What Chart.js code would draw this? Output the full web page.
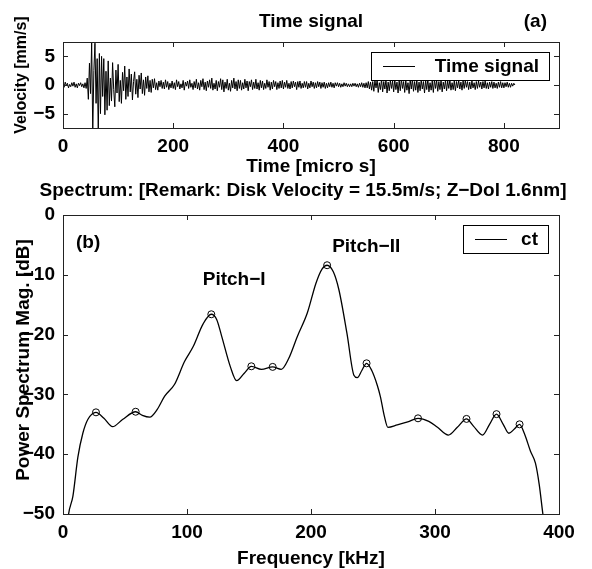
<!DOCTYPE html>
<html>
<head>
<meta charset="utf-8">
<script src="https://cdn.jsdelivr.net/npm/chart.js@4.4.1/dist/chart.umd.min.js"></script>
<style>
  html, body { margin: 0; padding: 0; background: #fff; }
  #wrap { position: relative; width: 592px; height: 569px; }
  canvas { position: absolute; left: 0; top: 0; }
</style>
</head>
<body>
<div id="wrap">
  <canvas id="timeChart" width="592" height="569"></canvas>
  <canvas id="specChart" width="592" height="569"></canvas>
</div>
<script>
// (a) time signal, one sample every 2 micro s starting at 0
const timeStep = 2;
const velocity = [
  0.2, -0.4, 0.5, -0.1, 0.3, -0.5, 0.1, -0.3, 0.4, -0.2, 0.5, -0.4, 0.2, -0.5, 0.3, -0.1, 0.4, -0.3, 0.2, -0.5,
  0.4, -0.6, 1.2, -2.5, 3.8, -1.5, 7.5, -8.5, 2.5, 7.3, -3.2, 4.6, -8.5, 5.5, -5.0, 5.0, -2.0, 4.6, -5.2, 2.4,
  -4.4, 4.2, -3.6, 1.2, -2.8, 3.9, -0.8, -3.8, 2.6, -1.4, 3.6, -2.9, 0.8, -3.2, 2.2, -1.0, 3.3, -2.5, 1.4, -2.0,
  2.8, -1.2, 1.9, -2.6, 0.6, 2.3, -1.6, 1.0, -2.2, 1.7, -0.7, 2.1, -1.5, 0.9, -1.8, 1.4, -0.6, 1.6, -1.2, 0.8,
  -1.3, 1.0, -0.5, 1.1, -0.8, 0.4, -0.9, 0.7, -0.3, 0.8, -0.6, 0.5, -0.7, 0.9, -0.4, 0.6, -0.8, 0.3, -0.5, 0.7,
  -0.6, 0.4, -0.8, 0.9, -0.3, 0.6, -0.7, 0.2, -0.5, 0.8, -0.9, 0.5, -0.2, 0.7, -0.6, 0.9, -0.4, 0.3, -0.8, 0.6,
  -0.5, 1.0, -0.7, 0.4, -0.9, 0.8, -0.3, 1.1, -0.8, 0.5, -1.0, 0.7, -0.4, 0.9, -0.6, 1.2, -0.9, 0.3, -0.7, 0.8,
  -1.0, 0.6, -0.4, 1.1, -0.8, 0.9, -1.2, 0.5, -0.6, 1.0, -0.9, 0.3, -1.1, 0.8, -0.5, 1.2, -0.7, 0.6, -1.0, 0.9,
  -0.6, 0.8, -0.9, 0.4, -0.7, 1.0, -0.5, 0.7, -1.0, 0.6, -0.3, 0.9, -0.8, 0.5, -0.6, 1.0, -0.7, 0.4, -0.9, 0.8,
  -0.5, 0.7, -0.8, 0.3, -0.6, 0.9, -0.4, 0.6, -0.9, 0.5, -0.7, 0.8, -0.3, 0.6, -0.8, 0.4, -0.6, 0.7, -0.5, 0.8,
  -0.7, 0.5, -0.4, 0.8, -0.6, 0.3, -0.7, 0.6, -0.5, 0.7, -0.3, 0.5, -0.8, 0.6, -0.4, 0.7, -0.6, 0.3, -0.5, 0.6,
  -0.4, 0.6, -0.7, 0.3, -0.5, 0.7, -0.3, 0.5, -0.6, 0.4, -0.5, 0.6, -0.3, 0.5, -0.6, 0.4, -0.4, 0.5, -0.6, 0.3,
  -0.5, 0.4, -0.3, 0.5, -0.4, 0.3, -0.5, 0.4, -0.2, 0.4, -0.3, 0.3, -0.4, 0.2, -0.3, 0.4, -0.2, 0.3, -0.3, 0.2,
  -0.3, 0.2, -0.3, 0.3, -0.2, 0.3, -0.3, 0.2, -0.4, 0.3, -0.3, 0.4, -0.4, 0.3, -0.5, 0.4, -0.5, 0.6, -0.7, 0.5,
  -0.9, 0.6, -1.1, 0.8, -0.5, 0.9, -1.3, 0.4, -0.8, 1.0, -1.2, 0.6, -0.7, 0.9, -1.4, 0.5, -1.0, 0.8, -0.6, 0.7,
  -1.2, 0.9, -0.8, 0.5, -1.4, 0.7, -1.0, 1.0, -0.6, 0.6, -1.3, 0.8, -0.9, 0.4, -1.5, 0.9, -0.7, 1.0, -1.1, 0.6,
  -0.9, 0.8, -1.3, 0.5, -1.0, 0.9, -0.7, 0.6, -1.4, 0.8, -0.8, 1.0, -1.2, 0.4, -0.9, 0.7, -1.3, 0.9, -0.6, 0.8,
  -1.1, 0.6, -0.8, 0.9, -1.2, 0.5, -0.7, 0.8, -1.0, 0.7, -0.6, 0.9, -0.9, 0.4, -0.8, 0.7, -1.0, 0.6, -0.5, 0.8,
  -0.7, 0.5, -0.9, 0.7, -0.6, 0.8, -0.4, 0.6, -0.8, 0.5, -0.7, 0.7, -0.5, 0.4, -0.8, 0.6, -0.6, 0.7, -0.4, 0.5,
  -0.7, 0.6, -0.5, 0.7, -0.6, 0.4, -0.7, 0.5, -0.4, 0.6, -0.6, 0.5, -0.5, 0.3, -0.6, 0.5, -0.4, 0.6, -0.5, 0.4,
  -0.5, 0.4, -0.3, 0.5, -0.4, 0.3, -0.4, 0.3, -0.2, 0.3, 0.0
];
const timeTicks = [0, 200, 400, 600, 800];
const velocityTicks = [-5, 0, 5];

// (b) spectrum
const freqKHz = [
  3, 4.5, 8, 12, 16, 20, 26.6, 33, 40, 48, 58.6, 64, 70, 76, 82, 90, 98, 105, 113,
  119.6, 124, 128, 135, 140, 146, 151.9, 160, 169.1, 176, 182, 189, 197, 204, 209,
  213, 218, 222.5, 229, 234.6, 237.3, 241, 244.8, 249, 253.5, 256, 259, 262, 269.6,
  278, 286.3, 295, 302, 310.8, 318, 325.4, 331, 338.3, 344, 349.6, 355, 359.6, 364,
  368.2, 372, 377, 381, 384, 387, 389
];
const powerDB = [
  -53, -50, -47, -40.5, -36.5, -34.2, -33.0, -34.0, -35.4, -34.2, -32.9, -33.5, -33.8,
  -32.5, -30.3, -28.3, -24.5, -22.0, -18.2, -16.6, -17.5, -20.3, -25.4, -27.7, -26.5,
  -25.3, -25.8, -25.4, -25.8, -24.0, -20.3, -16.4, -11.4, -9.0, -8.4, -9.5, -12.5,
  -19.8, -26.8, -27.2, -26.0, -24.8, -26.0, -28.5, -30.4, -33.5, -35.5, -35.1, -34.6,
  -34.0, -34.5, -35.5, -36.8, -35.5, -34.1, -35.3, -36.8, -35.0, -33.3, -35.0, -36.5,
  -35.8, -35.0, -36.5, -39.5, -41.5, -45.0, -50.0, -53.0
];
const peakFreqKHz = [26.6, 58.6, 119.6, 151.9, 169.1, 213, 244.8, 286.3, 325.4, 349.6, 368.2];
const peakPowerDB = [-33.0, -32.9, -16.6, -25.3, -25.4, -8.4, -24.8, -34.0, -34.1, -33.3, -35.0];
const freqTicks = [0, 100, 200, 300, 400];
const powerTicks = [0, -10, -20, -30, -40, -50];

const FAMILY = '"Liberation Sans", Arial, sans-serif';
const FONT = 'bold 19px ' + FAMILY;
const minus = v => String(v).replace('-', '\u2212');

// box frame with inward tick marks on all four sides
const frameTicks = {
  id: 'frameTicks',
  afterDatasetsDraw(chart) {
    const { ctx, chartArea: a, scales: { x, y } } = chart;
    ctx.save();
    ctx.strokeStyle = '#222';
    ctx.lineWidth = 1;
    ctx.strokeRect(Math.round(a.left) + 0.5, Math.round(a.top) + 0.5,
      Math.round(a.width), Math.round(a.height));
    ctx.beginPath();
    x.ticks.forEach(t => {
      const px = Math.round(x.getPixelForValue(t.value)) + 0.5;
      ctx.moveTo(px, a.bottom); ctx.lineTo(px, a.bottom - 5);
      ctx.moveTo(px, a.top); ctx.lineTo(px, a.top + 5);
    });
    y.ticks.forEach(t => {
      const py = Math.round(y.getPixelForValue(t.value)) + 0.5;
      ctx.moveTo(a.left, py); ctx.lineTo(a.left + 5, py);
      ctx.moveTo(a.right, py); ctx.lineTo(a.right - 5, py);
    });
    ctx.stroke();
    ctx.restore();
  }
};

// free text: pixel position (x, y) or data position (xv, yv)
const textLayer = items => ({
  id: 'textLayer',
  afterDraw(chart) {
    const { ctx, scales } = chart;
    ctx.save();
    ctx.fillStyle = '#000';
    ctx.textBaseline = 'middle';
    items.forEach(it => {
      const px = it.xv !== undefined ? scales.x.getPixelForValue(it.xv) : it.x;
      const py = it.yv !== undefined ? scales.y.getPixelForValue(it.yv) : it.y;
      ctx.save();
      ctx.font = it.font || FONT;
      ctx.translate(px, py);
      if (it.rotate) ctx.rotate(it.rotate * Math.PI / 180);
      ctx.textAlign = it.align || 'center';
      ctx.fillText(it.text, 0, 0);
      ctx.restore();
    });
    ctx.restore();
  }
});

// legend drawn as a boxed entry for the first dataset
const boxLegend = box => ({
  id: 'boxLegend',
  afterDraw(chart) {
    const { ctx } = chart;
    const ds = chart.data.datasets[0];
    ctx.save();
    ctx.fillStyle = '#fff';
    ctx.fillRect(box.left, box.top, box.right - box.left, box.bottom - box.top);
    ctx.strokeStyle = '#000';
    ctx.lineWidth = 1;
    ctx.strokeRect(box.left + 0.5, box.top + 0.5, box.right - box.left, box.bottom - box.top);
    const cy = Math.round((box.top + box.bottom) / 2) + 0.5;
    ctx.beginPath();
    ctx.moveTo(box.left + 12, cy);
    ctx.lineTo(box.left + 44, cy);
    ctx.stroke();
    ctx.fillStyle = '#000';
    ctx.font = FONT;
    ctx.textBaseline = 'middle';
    ctx.textAlign = 'right';
    ctx.fillText(ds.label, box.right - 10, cy);
    ctx.restore();
  }
});

const tickFont = { family: FAMILY, size: 19, weight: 'bold' };
const axisX = (ticks, min, max, height) => ({
  type: 'linear', min, max,
  afterFit: s => { s.height = height; },
  afterBuildTicks: s => { s.ticks = ticks.map(v => ({ value: v })); },
  grid: { display: false, drawTicks: false },
  border: { display: false },
  ticks: { color: '#000', font: tickFont, padding: 7, maxRotation: 0, callback: minus }
});
const axisY = (ticks, min, max) => ({
  type: 'linear', min, max,
  afterFit: s => { s.width = 63; },
  afterBuildTicks: s => { s.ticks = ticks.map(v => ({ value: v })); },
  grid: { display: false, drawTicks: false },
  border: { display: false },
  ticks: { color: '#000', font: tickFont, padding: 8, callback: minus }
});

Chart.defaults.animation = false;
Chart.defaults.devicePixelRatio = 1;

new Chart(document.getElementById('timeChart'), {
  type: 'line',
  data: {
    datasets: [{
      label: 'Time signal',
      data: velocity.map((v, i) => ({ x: i * timeStep, y: v })),
      borderColor: '#000', borderWidth: 1, pointRadius: 0, tension: 0, fill: false
    }]
  },
  options: {
    responsive: false,
    layout: { padding: { left: 0, top: 42, right: 33, bottom: 569 - 128 - 40 } },
    plugins: { legend: { display: false }, tooltip: { enabled: false } },
    scales: { x: axisX(timeTicks, 0, 900, 40), y: axisY(velocityTicks, -7.5, 7.5) }
  },
  plugins: [frameTicks, boxLegend({ left: 371, top: 52, right: 549, bottom: 80 }), textLayer([
    { text: 'Time signal', x: 311, y: 22 },
    { text: '(a)', x: 547, y: 22, align: 'right' },
    { text: 'Velocity [mm/s]', x: 22, y: 75, rotate: -90, font: 'bold 16px ' + FAMILY },
    { text: 'Time [micro s]', x: 311, y: 167 },
    { text: 'Spectrum: [Remark: Disk Velocity = 15.5m/s; Z\u2212Dol 1.6nm]', x: 303, y: 191 }
  ])]
});

new Chart(document.getElementById('specChart'), {
  type: 'line',
  data: {
    datasets: [{
      label: 'ct',
      data: freqKHz.map((f, i) => ({ x: f, y: powerDB[i] })),
      borderColor: '#000', borderWidth: 1.3, pointRadius: 0,
      cubicInterpolationMode: 'monotone', fill: false
    }, {
      label: 'peaks',
      data: peakFreqKHz.map((f, i) => ({ x: f, y: peakPowerDB[i] })),
      showLine: false, pointRadius: 3.5, pointBorderWidth: 1,
      pointBorderColor: '#000', pointBackgroundColor: 'rgba(0,0,0,0)'
    }]
  },
  options: {
    responsive: false,
    layout: { padding: { left: 0, top: 215, right: 33, bottom: 569 - 514 - 40 } },
    plugins: { legend: { display: false }, tooltip: { enabled: false } },
    scales: { x: axisX(freqTicks, 0, 400, 40), y: axisY(powerTicks, -50, 0) }
  },
  plugins: [frameTicks, boxLegend({ left: 463, top: 225, right: 548, bottom: 253 }), textLayer([
    { text: 'Power Spectrum Mag. [dB]', x: 24, y: 360, rotate: -90 },
    { text: 'Frequency [kHz]', x: 311, y: 559 },
    { text: '(b)', x: 76, y: 243, align: 'left' },
    { text: 'Pitch\u2212I', xv: 138, yv: -10.9 },
    { text: 'Pitch\u2212II', xv: 244.5, yv: -5.3 }
  ])]
});
</script>
</body>
</html>
